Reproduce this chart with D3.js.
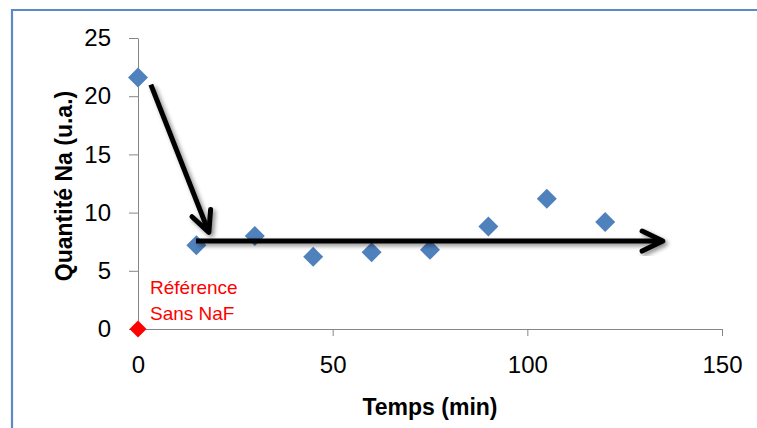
<!DOCTYPE html>
<html><head><meta charset="utf-8">
<script src="https://cdn.jsdelivr.net/npm/d3@7"></script>
<style>
html,body{margin:0;padding:0;background:#fff;}
svg{display:block;font-family:"Liberation Sans",Arial,sans-serif;}
</style></head>
<body><svg id="c" width="757" height="428"></svg>
<script>
// Data
const times = [0, 15, 30, 45, 60, 75, 90, 105, 120];
const naValues = [21.6, 7.2, 8.0, 6.2, 6.6, 6.8, 8.8, 11.2, 9.2];
const refPoint = [{t: 0, v: 0}];
const refLabel = ["Référence", "Sans NaF"];
const xTicks = [0, 50, 100, 150];
const yTicks = [0, 5, 10, 15, 20, 25];
const xTitle = "Temps (min)";
const yTitle = "Quantité Na (u.a.)";
// annotation arrows (data coordinates)
const arrowDown = [[3.3, 21.0], [18.2, 8.3]];
const arrowRight = [[14.9, 7.55], [134.8, 7.55]];

const svg = d3.select("#c");
const x = d3.scaleLinear().domain([0, 150]).range([138, 722]);
const y = d3.scaleLinear().domain([0, 25]).range([329, 38]);

// frame
svg.append("path").attr("d", "M12,428 L12,10 L757,10")
  .attr("fill", "none").attr("stroke", "#5B8BC7").attr("stroke-width", 2.2);

const defs = svg.append("defs");
const f = defs.append("filter").attr("id", "sh").attr("x", "-20%").attr("y", "-20%").attr("width", "140%").attr("height", "140%");
f.append("feDropShadow").attr("dx", 2.5).attr("dy", 2.5).attr("stdDeviation", 2).attr("flood-color", "#000").attr("flood-opacity", 0.45);

// axes
const xAxis = d3.axisBottom(x).tickValues(xTicks).tickSize(7).tickPadding(20).tickSizeOuter(0);
const yAxis = d3.axisLeft(y).tickValues(yTicks).tickSize(9).tickPadding(18).tickSizeOuter(0);
const gx = svg.append("g").attr("transform", `translate(0,${y(0)})`).call(xAxis);
const gy = svg.append("g").attr("transform", `translate(${x(0)},0)`).call(yAxis);
[gx, gy].forEach(g => {
  g.selectAll("path,line").attr("stroke", "#868686").attr("stroke-width", 1);
  g.selectAll("text").attr("fill", "#000").attr("font-size", 24)
    .attr("font-family", "'Liberation Sans',Arial,sans-serif");
});

// titles
svg.append("text").attr("x", 430).attr("y", 415).attr("text-anchor", "middle")
  .attr("font-size", 23).attr("font-weight", "bold").text(xTitle);
svg.append("text").attr("transform", "translate(72,186) rotate(-90)").attr("text-anchor", "middle")
  .attr("font-size", 23).attr("font-weight", "bold").text(yTitle);

// points
const sq = d3.symbol().type(d3.symbolSquare);
svg.append("g").selectAll("path").data(times.map((t, i) => ({t, v: naValues[i]}))).join("path")
  .attr("d", sq.size(200)())
  .attr("transform", d => `translate(${x(d.t)},${y(d.v)}) rotate(45)`)
  .attr("fill", "#4F81BD");

svg.append("g").selectAll("path").data(refPoint).join("path")
  .attr("d", sq.size(144)())
  .attr("transform", d => `translate(${x(d.t)},${y(d.v)}) rotate(45)`)
  .attr("fill", "#FF0000");

// reference label
svg.append("g").selectAll("text").data(refLabel).join("text")
  .attr("x", 150).attr("y", (d, i) => 294 + i * 26)
  .attr("font-size", 19).attr("fill", "#FF0000").text(d => d);

// arrows
function drawArrow(pts) {
  const [p0, p1] = pts.map(p => [x(p[0]), y(p[1])]);
  const ang = Math.atan2(p1[1] - p0[1], p1[0] - p0[0]);
  const L = 23, a = 0.45;
  const h1 = [p1[0] - L * Math.cos(ang - a), p1[1] - L * Math.sin(ang - a)];
  const h2 = [p1[0] - L * Math.cos(ang + a), p1[1] - L * Math.sin(ang + a)];
  const g = svg.append("g").attr("filter", "url(#sh)");
  g.append("path").attr("d", d3.line()([p0, p1]))
    .attr("stroke", "#000").attr("stroke-width", 5).attr("fill", "none");
  g.append("path").attr("d", d3.line()([h1, p1, h2]))
    .attr("stroke", "#000").attr("stroke-width", 5).attr("fill", "none")
    .attr("stroke-linecap", "round").attr("stroke-linejoin", "round");
}
drawArrow(arrowDown);
drawArrow(arrowRight);
</script></body></html>
